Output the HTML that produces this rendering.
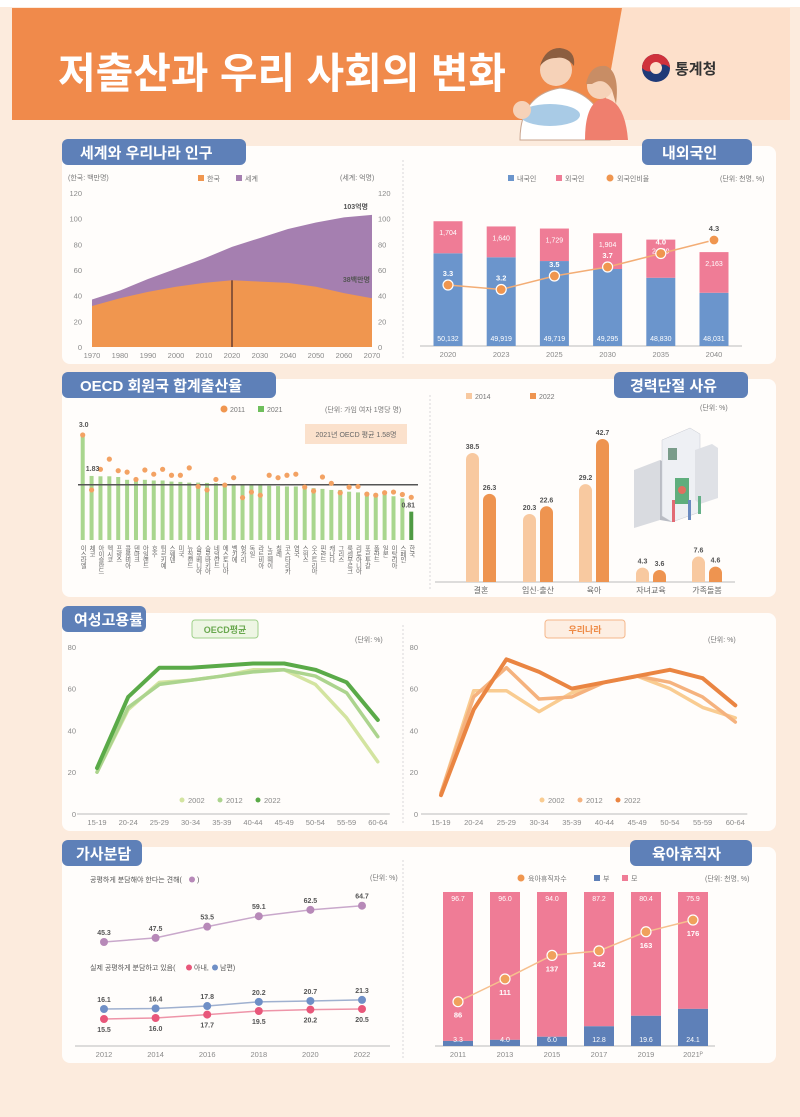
<!DOCTYPE html>
<html><head><meta charset="utf-8">
<style>
html,body{margin:0;padding:0;background:#fcebdd;}
svg{display:block;font-family:"Liberation Sans","Noto Sans CJK KR",sans-serif;}
.tk{font-size:7.5px;fill:#8a8a8a;}
.lb{font-size:7px;fill:#555;font-weight:bold;}
.tag{font-size:15px;font-weight:bold;fill:#fff;}
</style></head>
<body>
<svg id="chart" width="800" height="1117" viewBox="0 0 800 1117" xmlns="http://www.w3.org/2000/svg">
<rect x="0" y="0" width="800" height="1117" fill="#fcebdd"/>
<rect x="0" y="0" width="800" height="7" fill="#ffffff"/>
<!-- header -->
<polygon points="610,8 790,8 790,120 596,120" fill="#fde0cb"/>
<polygon points="12,8 622,8 602,120 12,120" fill="#f08a4b"/>
<text x="58" y="88" font-size="42" font-weight="bold" fill="#fff" textLength="448" lengthAdjust="spacingAndGlyphs">저출산과 우리 사회의 변화</text>
<g>
  <path d="M520,140 Q520,95 560,88 Q600,92 610,140 Z" fill="#fff" stroke="#c9a58f" stroke-width="1"/>
  <circle cx="556" cy="70" r="16" fill="#f6d2b8"/>
  <path d="M540,66 Q545,48 560,48 Q576,50 574,66 Q566,56 556,58 Q546,58 540,66Z" fill="#8c5e40"/>
  <path d="M585,140 Q585,100 605,98 Q625,102 628,140 Z" fill="#ef7f6e"/>
  <circle cx="600" cy="86" r="13" fill="#f6d2b8"/>
  <path d="M586,84 Q590,64 606,66 Q620,72 616,104 L612,90 Q604,76 592,84Z" fill="#c88d65"/>
  <ellipse cx="550" cy="115" rx="30" ry="11" fill="#a9cbe6"/>
  <circle cx="522" cy="110" r="9" fill="#f6d2b8"/>
</g>
<g>
  <circle cx="656" cy="68" r="14" fill="#1f3a78"/>
  <path d="M642,68 A14,14 0 0 1 670,68 Q663,61 656,68 Q649,75 642,68Z" fill="#d0323c"/>
  <circle cx="656" cy="68" r="6" fill="#fde0cb"/>
  <text x="675" y="74" font-size="15" font-weight="bold" fill="#333">통계청</text>
</g>

<!-- panels -->
<rect x="62" y="146" width="714" height="218" rx="8" fill="#fffdfb"/>
<rect x="62" y="379" width="714" height="218" rx="8" fill="#fffdfb"/>
<rect x="62" y="613" width="714" height="218" rx="8" fill="#fffdfb"/>
<rect x="62" y="847" width="714" height="216" rx="8" fill="#fffdfb"/>
<g stroke="#d8d8d8" stroke-dasharray="2,2" stroke-width="1">
<line x1="403" y1="160" x2="403" y2="360"/>
<line x1="430" y1="395" x2="430" y2="590"/>
<line x1="403" y1="625" x2="403" y2="825"/>
<line x1="403" y1="860" x2="403" y2="1058"/>
</g>

<!-- tags -->
<g><rect x="62" y="139" width="184" height="26" rx="6" fill="#5e80b8"/><text class="tag" x="80" y="158">세계와 우리나라 인구</text></g>
<g><rect x="642" y="139" width="110" height="26" rx="6" fill="#5e80b8"/><text class="tag" x="662" y="158">내외국인</text></g>
<g><rect x="62" y="372" width="214" height="26" rx="6" fill="#5e80b8"/><text class="tag" x="80" y="391">OECD 회원국 합계출산율</text></g>
<g><rect x="614" y="372" width="134" height="26" rx="6" fill="#5e80b8"/><text class="tag" x="630" y="391">경력단절 사유</text></g>
<g><rect x="62" y="606" width="84" height="26" rx="6" fill="#5e80b8"/><text class="tag" x="74" y="625">여성고용률</text></g>
<g><rect x="62" y="840" width="80" height="26" rx="6" fill="#5e80b8"/><text class="tag" x="76" y="859">가사분담</text></g>
<g><rect x="630" y="840" width="122" height="26" rx="6" fill="#5e80b8"/><text class="tag" x="652" y="859">육아휴직자</text></g>

<!-- static legends / notes -->
<g font-size="7" fill="#777">
<text x="68" y="180">(한국: 백만명)</text>
<text x="340" y="180">(세계: 억명)</text>
<rect x="198" y="175" width="6" height="6" fill="#f0964f"/><text x="207" y="181">한국</text>
<rect x="236" y="175" width="6" height="6" fill="#a57fb0"/><text x="245" y="181">세계</text>
<rect x="508" y="175" width="6" height="6" fill="#6b95cc"/><text x="517" y="181">내국인</text>
<rect x="556" y="175" width="6" height="6" fill="#ef7c96"/><text x="565" y="181">외국인</text>
<circle cx="610" cy="178" r="3.5" fill="#f0964f"/><text x="617" y="181">외국인비율</text>
<text x="720" y="181">(단위: 천명, %)</text>
<circle cx="224" cy="409" r="3.5" fill="#f0964f"/><text x="230" y="412">2011</text>
<rect x="258" y="406" width="6" height="6" fill="#6fbf5c"/><text x="267" y="412">2021</text>
<text x="325" y="412">(단위: 가임 여자 1명당 명)</text>
<rect x="305" y="424" width="102" height="20" fill="#fbe1cc"/>
<text x="356" y="437" text-anchor="middle" fill="#666">2021년 OECD 평균 1.58명</text>
<rect x="466" y="393" width="6" height="6" fill="#f8c9a0"/><text x="475" y="399">2014</text>
<rect x="530" y="393" width="6" height="6" fill="#ee9450"/><text x="539" y="399">2022</text>
<text x="700" y="410">(단위: %)</text>
<text x="355" y="642">(단위: %)</text>
<text x="708" y="642">(단위: %)</text>
<text x="370" y="880">(단위: %)</text>
<text x="90" y="882" fill="#555">공평하게 분담해야 한다는 견해(</text><circle cx="192" cy="879.5" r="3" fill="#b789b8"/><text x="197" y="882" fill="#555">)</text>
<text x="90" y="970" fill="#555">실제 공평하게 분담하고 있음(</text><circle cx="189" cy="967.5" r="3" fill="#e8577a"/><text x="194" y="970" fill="#555">아내,</text><circle cx="215" cy="967.5" r="3" fill="#6f8fc6"/><text x="220" y="970" fill="#555">남편)</text>
<circle cx="521" cy="878" r="3.5" fill="#f0964f"/><text x="528" y="881">육아휴직자수</text>
<rect x="594" y="875" width="6" height="6" fill="#5e80b8"/><text x="603" y="881">부</text>
<rect x="622" y="875" width="6" height="6" fill="#ef7c96"/><text x="631" y="881">모</text>
<text x="705" y="881">(단위: 천명, %)</text>
</g>
<g><rect x="192" y="620" width="66" height="18" rx="3" fill="#eef6e4" stroke="#9fd08a"/><text x="225" y="633" text-anchor="middle" font-size="9" font-weight="bold" fill="#6aa84f">OECD평균</text></g>
<g><rect x="545" y="620" width="80" height="18" rx="3" fill="#fdeee2" stroke="#f5b78a"/><text x="585" y="633" text-anchor="middle" font-size="9" font-weight="bold" fill="#ee8a45">우리나라</text></g>

<!-- building illustration -->
<g>
<polygon points="634,470 660,460 660,520 634,528" fill="#d9dbe0"/>
<polygon points="660,460 672,466 672,522 660,520" fill="#b9bcc4"/>
<polygon points="662,440 690,428 700,434 700,512 672,522 662,516" fill="#eef0f4" stroke="#c8cbd2" stroke-width="0.5"/>
<rect x="668" y="448" width="9" height="12" fill="#7a9c8a"/>
<rect x="675" y="478" width="14" height="26" fill="#5fae7d"/>
<circle cx="682" cy="490" r="4" fill="#e07060"/>
<polygon points="695,450 712,444 718,448 718,498 700,504 695,500" fill="#dfe1e6"/>
<rect x="672" y="500" width="3" height="22" fill="#e26a74"/>
<rect x="688" y="500" width="3" height="20" fill="#6a8ac0"/>
<rect x="698" y="496" width="3" height="18" fill="#64b088"/>
</g>

<!-- chart axes bases -->
<g stroke="#bbb" stroke-width="1">
<line x1="420" y1="346" x2="742" y2="346"/>
<line x1="435" y1="582" x2="735" y2="582"/>
<line x1="75" y1="1046" x2="390" y2="1046"/>
<line x1="435" y1="1046" x2="715" y2="1046"/>
</g>
</svg>

<script>
// ===== data =====
const popYears = [1970,1980,1990,2000,2010,2020,2030,2040,2050,2060,2070];
const koreaPop = [32,38,43,47,50,52,51,50,47,42,38];
const worldPop = [37,44,53,61,69,78,85,92,97,101,103];
const popTicks = [0,20,40,60,80,100,120];

const fgYears = ['2020','2023','2025','2030','2035','2040'];
const fgNative = [50132,49919,49719,49295,48830,48031];
const fgForeign = [1704,1640,1729,1904,2029,2163];
const fgRatio = [3.3,3.2,3.5,3.7,4.0,4.3];

const tfrCountries = ['이스라엘','체코','아이슬란드','멕시코','프랑스','콜롬비아','덴마크','아일랜드','호주','튀르키예','스웨덴','미국','뉴질랜드','슬로베니아','슬로바키아','네덜란드','에스토니아','벨기에','헝가리','독일','라트비아','노르웨이','칠레','코스타리카','영국','스위스','오스트리아','핀란드','캐나다','그리스','룩셈부르크','리투아니아','포르투갈','폴란드','일본','이탈리아','스페인','한국'];
const tfr2021 = [3.0,1.83,1.82,1.82,1.80,1.72,1.72,1.72,1.70,1.70,1.67,1.66,1.64,1.64,1.63,1.62,1.61,1.60,1.59,1.58,1.57,1.55,1.54,1.53,1.53,1.52,1.48,1.46,1.43,1.43,1.38,1.36,1.35,1.33,1.30,1.25,1.19,0.81];
const tfr2011 = [3.0,1.43,2.02,2.31,1.98,1.94,1.73,2.0,1.88,2.02,1.85,1.85,2.06,1.53,1.43,1.73,1.57,1.78,1.21,1.37,1.28,1.85,1.78,1.85,1.88,1.51,1.40,1.80,1.62,1.35,1.51,1.53,1.31,1.28,1.35,1.37,1.30,1.22];
const tfrAvg = 1.58;

const cbCats = ['결혼','임신·출산','육아','자녀교육','가족돌봄'];
const cb2014 = [38.5,20.3,29.2,4.3,7.6];
const cb2022 = [26.3,22.6,42.7,3.6,4.6];

const ageGroups = ['15-19','20-24','25-29','30-34','35-39','40-44','45-49','50-54','55-59','60-64'];
const empTicks = [0,20,40,60,80];
const oecd2002 = [20,50,63,64,66,69,69,62,46,25];
const oecd2012 = [20,51,62,64,66,68,69,66,58,37];
const oecd2022 = [22,56,70,70,71,72,72,69,63,45];
const kor2002 = [10,59,59,49,58,63,66,60,51,46];
const kor2012 = [10,56,70,55,56,63,66,63,56,44];
const kor2022 = [9,50,74,68,60,63,66,69,65,52];

const hwYears = ['2012','2014','2016','2018','2020','2022'];
const hwShould = [45.3,47.5,53.5,59.1,62.5,64.7];
const hwHusband = [16.1,16.4,17.8,20.2,20.7,21.3];
const hwWife = [15.5,16.0,17.7,19.5,20.2,20.5];

const plYears = ['2011','2013','2015','2017','2019','2021ᴾ'];
const plFather = [3.3,4.0,6.0,12.8,19.6,24.1];
const plMother = [96.7,96.0,94.0,87.2,80.4,75.9];
const plCount = [86,111,137,142,163,176];

// ===== helpers =====
const NS='http://www.w3.org/2000/svg';
const svg=document.getElementById('chart');
function mk(tag,a,p){const e=document.createElementNS(NS,tag);for(const k in a)e.setAttribute(k,a[k]);(p||svg).appendChild(e);return e;}
function tx(x,y,s,cls,extra){const e=mk('text',Object.assign({x:x,y:y},extra||{}));if(cls)e.setAttribute('class',cls);e.textContent=s;return e;}

// ===== population =====
const xPop=i=>92+i*28, yPop=v=>347-v*1.283;
popTicks.forEach(t=>{
  let a=tx(82,yPop(t)+3,t,'tk',{'text-anchor':'end'});
  
  
  let b=tx(378,yPop(t)+3,t,'tk');
  
  
});
popYears.forEach((y,i)=>{
  let a=tx(xPop(i),358,y,'tk',{'text-anchor':'middle'});
  
  
});
let wd='M'+xPop(0)+','+yPop(0);
worldPop.forEach((v,i)=>wd+=' L'+xPop(i)+','+yPop(v));
wd+=' L'+xPop(worldPop.length-1)+','+yPop(0)+'Z';
const wArea=mk('path',{d:wd,fill:'#a57fb0'});


let kd='M'+xPop(0)+','+yPop(0);
koreaPop.forEach((v,i)=>kd+=' L'+xPop(i)+','+yPop(v));
kd+=' L'+xPop(koreaPop.length-1)+','+yPop(0)+'Z';
const kArea=mk('path',{d:kd,fill:'#f0964f'});


const vline=mk('line',{x1:xPop(5),x2:xPop(5),y1:yPop(koreaPop[5]),y2:yPop(0),stroke:'#4a2a2a','stroke-width':1.2});


const wl=tx(xPop(10)-4,yPop(worldPop[10])-6,worldPop[10]+'억명','lb',{'text-anchor':'end','font-size':8});


const kl=tx(xPop(10)-2,yPop(koreaPop[10])-16,koreaPop[10]+'백만명','lb',{'text-anchor':'end'});



// ===== foreigners =====
const xFg=i=>448+i*53.2, yFg=v=>346-(v-45200)*0.0188, yRatio=r=>285-(r-3.3)*45;
fgYears.forEach((y,i)=>{
  const x=xFg(i);
  const b=mk('rect',{x:x-14.5,y:yFg(fgNative[i]),width:29,height:346-yFg(fgNative[i]),fill:'#6b95cc'});
  
  
  const top=yFg(fgNative[i]+fgForeign[i]);
  const p=mk('rect',{x:x-14.5,y:top,width:29,height:yFg(fgNative[i])-top,fill:'#ef7c96'});
  
  
  const a=tx(x,341,fgNative[i].toLocaleString('en-US'),'',{'text-anchor':'middle','font-size':7,fill:'#fff'});
  
  
  const c=tx(x,top+14,fgForeign[i].toLocaleString('en-US'),'',{'text-anchor':'middle','font-size':7,fill:'#fff'});
  
  
  const d=tx(x,357,y,'tk',{'text-anchor':'middle'});
  
  
});
let rl='';
fgRatio.forEach((r,i)=>rl+=(i?' L':'M')+xFg(i)+','+yRatio(r));
const rline=mk('path',{d:rl,fill:'none',stroke:'#f3ad75','stroke-width':1.5});


fgRatio.forEach((r,i)=>{
  const c=mk('circle',{cx:xFg(i),cy:yRatio(r),r:5,fill:'#f0964f',stroke:'#fff','stroke-width':1.2});
  
  
  const t=tx(xFg(i),yRatio(r)-9,r.toFixed(1),'',{'text-anchor':'middle','font-size':7.5,'font-weight':'bold',fill:i==5?'#555':'#fff'});
  
  
});

// ===== OECD TFR =====
const xT=i=>82.7+i*8.88, yT=v=>540-v*35;
tfrCountries.forEach((c,i)=>{
  const b=mk('rect',{x:xT(i)-2,y:yT(tfr2021[i]),width:4,height:540-yT(tfr2021[i]),fill:i==37?'#4f9a43':'#a9d68e'});
  
  
  const l=mk('text',{x:xT(i),y:545,'font-size':6.3,fill:'#666','writing-mode':'tb','glyph-orientation-vertical':0,'letter-spacing':-0.5});
  l.textContent=c;
  
  
});
const avg=mk('line',{x1:78,x2:418,y1:yT(tfrAvg),y2:yT(tfrAvg),stroke:'#555','stroke-width':1.5});


tfrCountries.forEach((c,i)=>{
  const d=mk('circle',{cx:xT(i),cy:yT(tfr2011[i]),r:2.6,fill:'#f3a263'});
  
  
});
[[0,'3.0',-5],[1,'1.83',-5],[37,'0.81',-4]].forEach(o=>{
  const t=tx(xT(o[0])+(o[0]==37?-3:1),yT(tfr2021[o[0]])+o[2]-(o[0]==0?3:0),o[1],'lb',{'text-anchor':'middle','font-size':7.5});
  
  
});

// ===== career break =====
const xCb=i=>[481,538,594,651,707][i], yCb=v=>582-v*3.35;
cbCats.forEach((c,i)=>{
  [[cb2014,-8.5,'#f8c9a0'],[cb2022,8.5,'#ee9450']].forEach(s=>{
    const v=s[0][i],x=xCb(i)+s[1];
    const b=mk('path',{d:`M${x-6.5},582 L${x-6.5},${yCb(v)+6.5} A6.5,6.5 0 0 1 ${x+6.5},${yCb(v)+6.5} L${x+6.5},582Z`,fill:s[2]});
    
    
    const t=tx(x,yCb(v)-4,v.toFixed(1),'lb',{'text-anchor':'middle','font-size':7.5});
    
    
  });
  const l=tx(xCb(i),593,c,'',{'text-anchor':'middle','font-size':8,fill:'#666'});
  
  
});

// ===== female employment =====
const yE=v=>814-v*2.09;
function empChart(x0,step,series,colors,names,legX,tickX){
  empTicks.forEach(t=>{
    const a=tx(tickX,yE(t)+3,t,'tk',{'text-anchor':'end'});
    
    
  });
  const ax=mk('line',{x1:x0-20,x2:x0+9*step+12,y1:814,y2:814,stroke:'#bbb'});
  
  
  ageGroups.forEach((g,i)=>{
    const a=tx(x0+i*step,825,g,'tk',{'text-anchor':'middle','font-size':7});
    
    
  });
  series.forEach((s,k)=>{
    let d='';s.forEach((v,i)=>d+=(i?' L':'M')+(x0+i*step)+','+yE(v));
    const p=mk('path',{d:d,fill:'none',stroke:colors[k],'stroke-width':k==2?4:3.5,'stroke-linejoin':'round','stroke-linecap':'round'});
    
    
    mk('circle',{cx:legX+k*38,cy:800,r:2.5,fill:colors[k]});
    const t=tx(legX+k*38+6,803,['2002','2012','2022'][k],'tk',{'font-size':7});
    
    
  });
}
empChart(97,31.2,[oecd2002,oecd2012,oecd2022],['#d3e4a0','#acd48e','#5aaa48'],['oecd-2002-line','oecd-2012-line','oecd-2022-line'],182,76);
empChart(441,32.7,[kor2002,kor2012,kor2022],['#f9cc91','#f5b27e','#ea8542'],['korea-2002-line','korea-2012-line','korea-2022-line'],542,418);

// ===== housework =====
const xH=i=>104+i*51.6;
const yShould=v=>942-(v-45.3)*1.87, yHus=v=>1009-(v-16.1)*1.75, yWife=v=>1019-(v-15.5)*2;
[[hwShould,yShould,'#b789b8','#c9a8cb','housework-should-line',-7,'#444'],[hwHusband,yHus,'#6f8fc6','#9fb0cf','housework-husband-line',-7,'#444'],[hwWife,yWife,'#e8577a','#ee94a8','housework-wife-line',13,'#e8577a']].forEach(s=>{
  let d='';s[0].forEach((v,i)=>d+=(i?' L':'M')+xH(i)+','+s[1](v));
  const p=mk('path',{d:d,fill:'none',stroke:s[3],'stroke-width':1.5});
  
  
  s[0].forEach((v,i)=>{
    const c=mk('circle',{cx:xH(i),cy:s[1](v),r:4,fill:s[2]});
    
    
    const t=tx(xH(i),s[1](v)+s[5],v.toFixed(1),'lb',{'text-anchor':'middle','font-size':7.5,fill:s[6]});
    
    
  });
});
hwYears.forEach((y,i)=>{
  const t=tx(xH(i),1057,y,'tk',{'text-anchor':'middle'});
  
  
});

// ===== parental leave =====
const xP=i=>458+i*47, yPct=v=>1046-v*1.54, yCnt=v=>979-(v-111)*0.908;
plYears.forEach((y,i)=>{
  const x=xP(i);
  const m=mk('rect',{x:x-15,y:yPct(100),width:30,height:yPct(plFather[i])-yPct(100),fill:'#ef7c96'});
  
  
  const f=mk('rect',{x:x-15,y:yPct(plFather[i]),width:30,height:1046-yPct(plFather[i]),fill:'#5e80b8'});
  
  
  const a=tx(x,yPct(100)+9,plMother[i].toFixed(1),'',{'text-anchor':'middle','font-size':7,fill:'#fff'});
  
  
  const b=tx(x,1042,plFather[i].toFixed(1),'',{'text-anchor':'middle','font-size':7,fill:'#fff'});
  
  
  const c=tx(x,1057,y,'tk',{'text-anchor':'middle'});
  
  
});
let pl='';plCount.forEach((v,i)=>pl+=(i?' L':'M')+xP(i)+','+yCnt(v));
const plLine=mk('path',{d:pl,fill:'none',stroke:'#f6c08e','stroke-width':1.5});


plCount.forEach((v,i)=>{
  const c=mk('circle',{cx:xP(i),cy:yCnt(v),r:5,fill:'#f0a15c',stroke:'#fff','stroke-width':1.2});
  
  
  const t=tx(xP(i),yCnt(v)+16,v,'',{'text-anchor':'middle','font-size':7.5,'font-weight':'bold',fill:'#fff'});
  
  
});
</script>
</body></html>
